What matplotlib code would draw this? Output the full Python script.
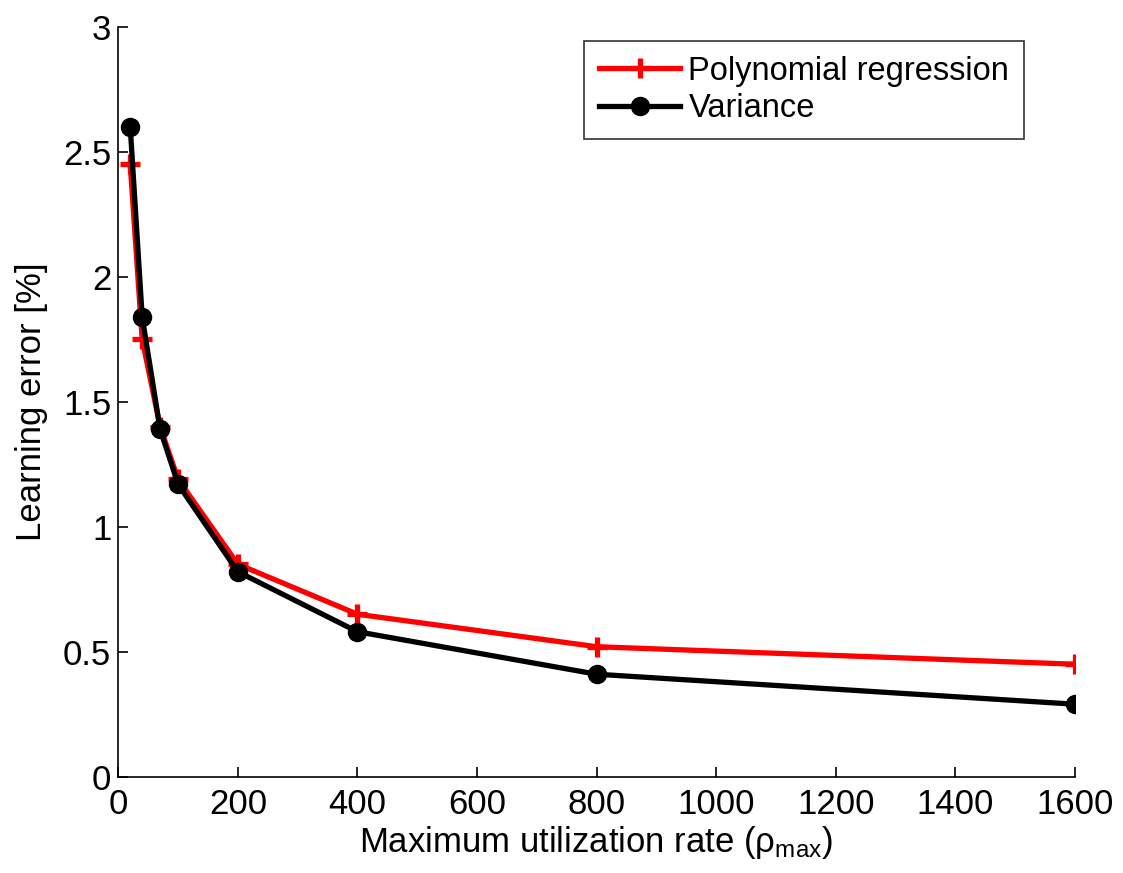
import matplotlib
matplotlib.use("Agg")
import matplotlib.pyplot as plt

plt.rcParams['font.family'] = ['Liberation Sans', 'DejaVu Sans']
plt.rcParams['mathtext.fontset'] = 'custom'
plt.rcParams['mathtext.rm'] = 'Liberation Sans'
plt.rcParams['mathtext.it'] = 'Liberation Sans:italic'

rho_max = [20, 40, 70, 100, 200, 400, 800, 1600]
poly_reg = [2.45, 1.75, 1.40, 1.19, 0.85, 0.65, 0.52, 0.45]
variance = [2.60, 1.84, 1.39, 1.17, 0.82, 0.58, 0.41, 0.29]
x_ticks = [0, 200, 400, 600, 800, 1000, 1200, 1400, 1600]
y_ticks = [0, 0.5, 1, 1.5, 2, 2.5, 3]
y_tick_labels = ['0', '0.5', '1', '1.5', '2', '2.5', '3']

FS = 25

fig = plt.figure(figsize=(11.23, 8.73), dpi=100)
ax = fig.add_axes([0.1053, 0.1103, 0.852, 0.859])

ax.plot(rho_max, poly_reg, color='#ff0000', lw=3.8, marker='+', ms=15, mew=3.8,
        label='Polynomial regression', zorder=3)
ax.plot(rho_max, variance, color='black', lw=3.8, marker='o', ms=13,
        label='Variance', zorder=4)

ax.set_xlim(0, 1600)
ax.set_ylim(0, 3)
ax.set_xticks(x_ticks)
ax.set_yticks(y_ticks)
ax.set_yticklabels(y_tick_labels)
ax.tick_params(direction='in', length=7, width=1.2, labelsize=FS, colors='black')
ax.tick_params(axis='x', pad=8)
ax.tick_params(axis='y', pad=5)
for s in ['top', 'right']:
    ax.spines[s].set_visible(False)
for s in ['left', 'bottom']:
    ax.spines[s].set_linewidth(1.2)

ax.set_xlabel('Maximum utilization rate (ρ$_{\\mathrm{max}}$)', fontsize=FS, labelpad=2)
ax.set_ylabel('Learning error [%]', fontsize=FS, labelpad=11)

leg = ax.legend(loc='upper right', bbox_to_anchor=(0.9467, 0.981), borderaxespad=0,
                fontsize=23.5, frameon=True, fancybox=False, edgecolor='black',
                handlelength=2.5, handletextpad=0.25, borderpad=0.45, labelspacing=0.2)
leg.get_frame().set_linewidth(1.2)

fig.savefig('out.png', dpi=100)
